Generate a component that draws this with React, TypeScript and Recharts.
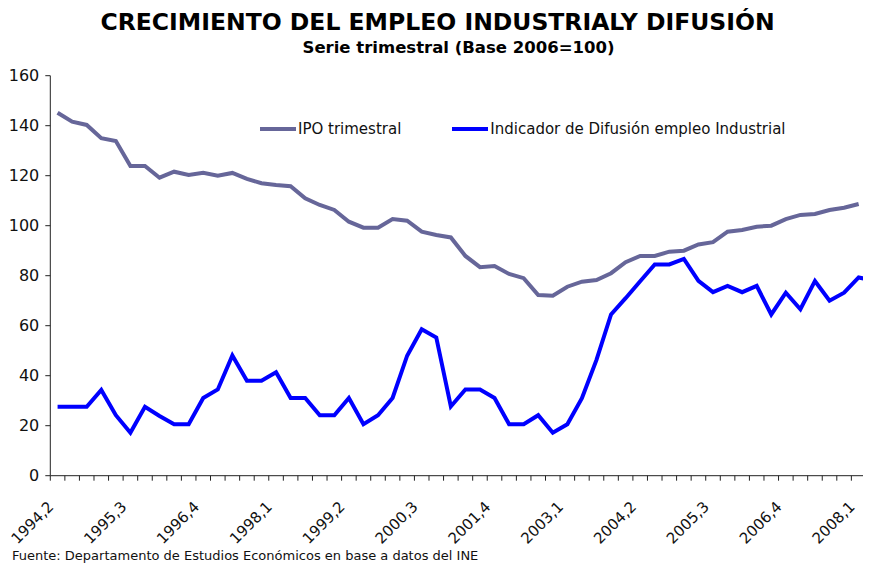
import { Legend, Line, LineChart, XAxis, YAxis } from "recharts";

const QUARTERS = [
  "1994,2", "1994,3", "1994,4",
  "1995,1", "1995,2", "1995,3", "1995,4",
  "1996,1", "1996,2", "1996,3", "1996,4",
  "1997,1", "1997,2", "1997,3", "1997,4",
  "1998,1", "1998,2", "1998,3", "1998,4",
  "1999,1", "1999,2", "1999,3", "1999,4",
  "2000,1", "2000,2", "2000,3", "2000,4",
  "2001,1", "2001,2", "2001,3", "2001,4",
  "2002,1", "2002,2", "2002,3", "2002,4",
  "2003,1", "2003,2", "2003,3", "2003,4",
  "2004,1", "2004,2", "2004,3", "2004,4",
  "2005,1", "2005,2", "2005,3", "2005,4",
  "2006,1", "2006,2", "2006,3", "2006,4",
  "2007,1", "2007,2", "2007,3", "2007,4",
  "2008,1", "2008,2",
];

const TICK_LABELS = [
  "1994,2", "1995,3", "1996,4", "1998,1", "1999,2", "2000,3",
  "2001,4", "2003,1", "2004,2", "2005,3", "2006,4", "2008,1",
];

// IPO trimestral (Base 2006=100)
const IPO = [
  145.2, 141.6, 140.3, 135.0, 133.9, 123.9, 123.9, 119.2, 121.6, 120.3,
  121.2, 120.0, 121.1, 118.7, 117.0, 116.3, 115.8, 111.0, 108.3, 106.3,
  101.6, 99.2, 99.2, 102.7, 102.0, 97.6, 96.3, 95.3, 87.9, 83.4,
  83.9, 80.7, 79.0, 72.3, 72.0, 75.6, 77.6, 78.3, 81.0, 85.4,
  87.9, 87.9, 89.6, 90.0, 92.5, 93.4, 97.6, 98.3, 99.6, 100.0,
  102.6, 104.3, 104.7, 106.3, 107.2, 108.7,
];

// Indicador de Difusión empleo Industrial
const DIFUSION = [
  27.6, 27.6, 27.6, 34.3, 24.2, 17.2, 27.6, 23.9, 20.6, 20.6,
  31.1, 34.5, 48.1, 38.0, 38.0, 41.4, 31.1, 31.1, 24.2, 24.2,
  31.1, 20.6, 24.2, 31.1, 48.0, 58.6, 55.3, 27.7, 34.5, 34.5,
  31.1, 20.6, 20.6, 24.2, 17.2, 20.6, 31.0, 46.3, 64.5, 71.0,
  77.8, 84.5, 84.5, 86.7, 77.9, 73.4, 75.9, 73.4, 75.9, 64.5,
  73.2, 66.6, 77.9, 70.0, 73.2, 79.3, 78.0,
];

const Y_TICKS = [0, 20, 40, 60, 80, 100, 120, 140, 160];

const IPO_COLOR = "#666699";
const DIF_COLOR = "#0000ff";
const AXIS_COLOR = "#222";
const FONT = "'DejaVu Sans', Verdana, sans-serif";

const data = QUARTERS.map((q, i) => ({
  idx: i,
  q,
  ipo: IPO[i] ?? null,
  dif: DIFUSION[i] ?? null,
}));

// tick marks sit between quarters, labels sit on the quarter itself
const boundaryTicks = QUARTERS.map((_, i) => i - 0.5).concat(QUARTERS.length - 0.5);
const labelTicks = TICK_LABELS.map((t) => QUARTERS.indexOf(t));
const xDomain = [-0.5, QUARTERS.length - 0.5];

const SERIES = [
  { key: "ipo", name: "IPO trimestral", color: IPO_COLOR },
  { key: "dif", name: "Indicador de Difusión empleo Industrial", color: DIF_COLOR },
];

function QuarterTick(props: any) {
  const { x, y, payload } = props;
  const ax = x - 3;
  const ay = y + 24;
  return (
    <text
      x={ax}
      y={ay}
      transform={`rotate(-45 ${ax} ${ay})`}
      textAnchor="end"
      fontSize={15}
      fontFamily={FONT}
      fill="#111"
    >
      {QUARTERS[payload.value]}
    </text>
  );
}

function ChartLegend() {
  return (
    <div style={{ display: "flex", alignItems: "center", fontFamily: FONT, fontSize: 15, color: "#111" }}>
      {SERIES.map((s, i) => (
        <div key={s.key} style={{ display: "flex", alignItems: "center", marginRight: i === 0 ? 51 : 0 }}>
          <svg width={36} height={6} style={{ display: "block" }}>
            <line x1={0} y1={3} x2={36} y2={3} stroke={s.color} strokeWidth={4} />
          </svg>
          <span style={{ marginLeft: 2, whiteSpace: "nowrap" }}>{s.name}</span>
        </div>
      ))}
    </div>
  );
}

export default function App() {
  return (
    <div
      style={{
        position: "relative",
        width: 871,
        height: 565,
        margin: "-8px -8px 0 -8px",
        overflow: "hidden",
        background: "#fff",
        fontFamily: FONT,
      }}
    >
      <div
        style={{
          position: "absolute",
          top: 10,
          left: 2,
          width: 871,
          textAlign: "center",
          fontWeight: "bold",
          fontSize: 23.5,
          lineHeight: "24px",
          color: "#000",
        }}
      >
        CRECIMIENTO DEL EMPLEO INDUSTRIALY DIFUSIÓN
      </div>
      <div
        style={{
          position: "absolute",
          top: 39,
          left: 23,
          width: 871,
          textAlign: "center",
          fontWeight: "bold",
          fontSize: 16.5,
          lineHeight: "18px",
          color: "#000",
        }}
      >
        Serie trimestral (Base 2006=100)
      </div>

      <div style={{ position: "absolute", top: 0, left: 0 }}>
        <LineChart
          width={900}
          height={565}
          data={data}
          margin={{ top: 75.7, right: 19.5, bottom: 23.3, left: 0.3 }}
        >
          <XAxis
            xAxisId="b"
            dataKey="idx"
            type="number"
            domain={xDomain}
            ticks={boundaryTicks}
            interval={0}
            tickFormatter={() => ""}
            tickSize={5}
            height={6}
            stroke={AXIS_COLOR}
            tickLine={{ stroke: AXIS_COLOR }}
          />
          <XAxis
            xAxisId="l"
            dataKey="idx"
            type="number"
            domain={xDomain}
            ticks={labelTicks}
            interval={0}
            axisLine={false}
            tickLine={false}
            tickSize={0}
            height={60}
            tick={<QuarterTick />}
          />
          <YAxis
            domain={[0, 160]}
            ticks={Y_TICKS}
            interval={0}
            width={50}
            tickSize={5}
            tickMargin={6}
            stroke={AXIS_COLOR}
            tick={{ fill: "#111", fontSize: 16, fontFamily: FONT }}
          />
          <Legend
            layout="horizontal"
            verticalAlign="middle"
            align="center"
            content={<ChartLegend />}
            wrapperStyle={{ position: "absolute", top: 120, left: 260, width: 600, height: 20 }}
          />
          {SERIES.map((s) => (
            <Line
              key={s.key}
              xAxisId="b"
              dataKey={s.key}
              name={s.name}
              stroke={s.color}
              strokeWidth={4}
              dot={false}
              activeDot={false}
              connectNulls={false}
              isAnimationActive={false}
            />
          ))}
        </LineChart>
      </div>

      <div
        style={{
          position: "absolute",
          top: 548,
          left: 12,
          fontSize: 13,
          lineHeight: "16px",
          color: "#111",
          whiteSpace: "nowrap",
        }}
      >
        Fuente: Departamento de Estudios Económicos en base a datos del INE
      </div>
    </div>
  );
}
